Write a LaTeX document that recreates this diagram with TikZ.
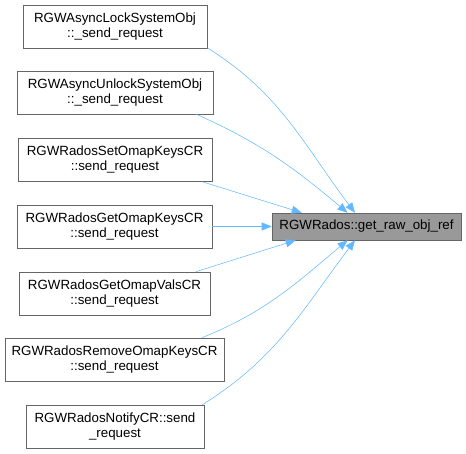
\documentclass[tikz,border=0pt]{standalone}
\usepackage{fontspec}
\setmainfont{Liberation Sans}
\usepackage{xcolor}
\usetikzlibrary{arrows.meta}
\definecolor{edgeblue}{HTML}{63B8FF}
\definecolor{boxgray}{HTML}{666666}
\definecolor{curgray}{HTML}{999999}

\begin{document}
\begin{tikzpicture}[x=0.75pt,y=-0.75pt,
fn/.style={draw=boxgray,fill=white,inner sep=0pt,minimum height=32.25pt,align=center,font=\fontsize{10}{11.25}\selectfont},
cur/.style={fn,fill=curgray,minimum height=20.25pt},
call/.style={edgeblue,-{Triangle[length=7.5pt,width=6pt]}}]
\useasboundingbox(0,0)rectangle(466,453);
\node[fn,minimum width=138pt](lock)at(115,26.5){RGWAsyncLockSystemObj\\::\_send\_request};
\node[fn,minimum width=147pt](unlock)at(115,92.5){RGWAsyncUnlockSystemObj\\::\_send\_request};
\node[fn,minimum width=145.5pt](setkeys)at(115,160){RGWRadosSetOmapKeysCR\\::send\_request};
\node[fn,minimum width=146.25pt](getkeys)at(114.5,226.5){RGWRadosGetOmapKeysCR\\::send\_request};
\node[fn,minimum width=143.25pt](getvals)at(114.5,293.5){RGWRadosGetOmapValsCR\\::send\_request};
\node[fn,minimum width=164.25pt](rmkeys)at(114.5,359.5){RGWRadosRemoveOmapKeysCR\\::send\_request};
\node[fn,minimum width=133.5pt](notify)at(115,426.5){RGWRadosNotifyCR::send\\\_request};
\node[cur,minimum width=141.75pt](ref)at(366.5,226.5){RGWRados::get\_raw\_obj\_ref};
% callers -> get_raw_obj_ref
\draw[call](lock.-13)to[out=-32,in=127](ref.130);
\draw[call](unlock.-15)to[out=-24,in=140](ref.144);
\draw[call](setkeys.-14)--(ref.168.5);
\draw[call](getkeys)--(ref);
\draw[call](getvals.15)--(ref.191.5);
\draw[call](rmkeys.14.4)to[out=22,in=-140](ref.216);
\draw[call](notify.14)to[out=32,in=-127](ref.230);
\end{tikzpicture}
\end{document}
